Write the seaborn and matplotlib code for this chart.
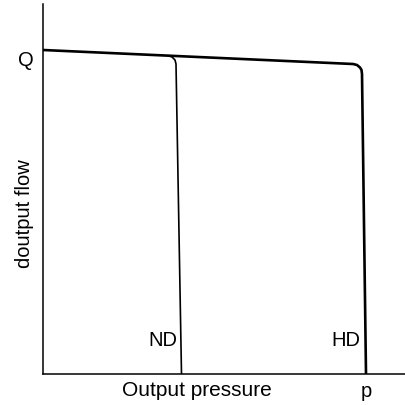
import matplotlib
matplotlib.use("Agg")
import pandas as pd
import seaborn as sns
from matplotlib import pyplot as plt

# curve points (output pressure, output flow)
hd_pressure = [0, 310, 314, 317, 318.5, 319, 323]
hd_flow = [324, 310, 309, 306.5, 304, 300, 0]
nd_pressure = [125, 129, 132, 133, 138.5]
nd_flow = [318.4, 317, 314, 310, 0]

x_ticks = [323]
x_tick_labels = ["p"]
y_ticks = [316]
y_tick_labels = ["Q"]

sns.set_theme(style="white")
plt.rcParams["font.family"] = ["Liberation Sans", "DejaVu Sans"]
plt.rcParams["text.color"] = "black"
plt.rcParams["xtick.color"] = "black"
plt.rcParams["ytick.color"] = "black"

FS = 14.5

fig = plt.figure(figsize=(4.06, 4.05), dpi=100)
ax = fig.add_axes([43 / 406, 31 / 405, 363 / 406, 370 / 405])

hd = pd.DataFrame({"pressure": hd_pressure, "flow": hd_flow})
nd = pd.DataFrame({"pressure": nd_pressure, "flow": nd_flow})
sns.lineplot(data=hd, x="pressure", y="flow", sort=False, ax=ax, color="black", linewidth=1.9)
sns.lineplot(data=nd, x="pressure", y="flow", sort=False, ax=ax, color="black", linewidth=1.2)

ax.set_xlim(0, 363)
ax.set_ylim(0, 370)
ax.set_xticks(x_ticks, x_tick_labels, fontsize=FS)
ax.set_yticks(y_ticks, y_tick_labels, fontsize=FS)
ax.tick_params(axis="x", length=0, pad=6)
ax.tick_params(axis="y", length=0, pad=7)
ax.set_xlabel("")
ax.set_ylabel("")
sns.despine(ax=ax)
for side in ("left", "bottom"):
    ax.spines[side].set_color("black")
    ax.spines[side].set_linewidth(1.1)

ax.text(134, 34, "ND", ha="right", va="center", fontsize=FS)
ax.text(317, 34, "HD", ha="right", va="center", fontsize=FS)
fig.text(197 / 406, 1 - 391 / 405, "Output pressure", ha="center", va="center", fontsize=15)
fig.text(25 / 406, 1 - 214 / 405, "doutput flow", ha="center", va="center", rotation=90, fontsize=FS)

fig.savefig("out.png", dpi=100)
